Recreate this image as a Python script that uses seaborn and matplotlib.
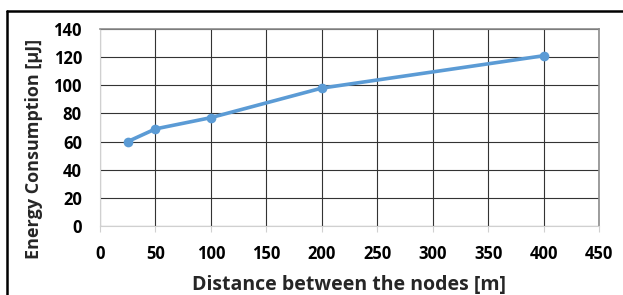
import matplotlib
matplotlib.use("Agg")
import matplotlib.pyplot as plt
import seaborn as sns
import pandas as pd
from matplotlib.lines import Line2D

# data
distance = [25, 50, 100, 200, 400]
energy = [60, 69, 77, 98, 121]
x_ticks = [0, 50, 100, 150, 200, 250, 300, 350, 400, 450]
y_ticks = [0, 20, 40, 60, 80, 100, 120, 140]

df = pd.DataFrame({"distance": distance, "energy": energy})

sns.set_style("white")
plt.rcParams['font.family'] = ['Open Sans', 'DejaVu Sans']

fig = plt.figure(figsize=(6.23, 2.95), dpi=100)
ax = fig.add_axes([100 / 623, 1 - 226 / 295, 499 / 623, 197 / 295])

sns.lineplot(data=df, x="distance", y="energy", ax=ax, color="#5b9bd5",
             linewidth=2.6, marker="o", markersize=7, markeredgewidth=0,
             zorder=3)

ax.set_xlim(0, 450)
ax.set_ylim(0, 140)
ax.set_xticks(x_ticks)
ax.set_yticks(y_ticks)
ax.grid(True, color="#333333", linewidth=0.8)
ax.set_axisbelow(True)

for side in ["top", "right"]:
    ax.spines[side].set_color("#8c8c8c")
    ax.spines[side].set_linewidth(1.2)
ax.spines["left"].set_color("#d0d0d0")
ax.spines["bottom"].set_color("#d0d0d0")
ax.tick_params(axis="x", length=4, color="#d0d0d0", pad=10, bottom=True)
ax.tick_params(axis="y", length=0, pad=13)
for lab in ax.get_xticklabels() + ax.get_yticklabels():
    lab.set_fontweight("bold")
    lab.set_fontsize(12)
    lab.set_color("black")

ax.set_xlabel("Distance between the nodes [m]", fontsize=14,
              fontweight="bold", labelpad=8)
ax.set_ylabel("Energy Consumption [\u03bcJ]", fontsize=13,
              fontweight="bold")
# excel puts the title a bit lower than the axis centre
ax.yaxis.set_label_coords(-57 / 499, 0.39)

# cropped frame around the screenshot (top and left only)
fig.add_artist(Line2D([7 / 623, 7 / 623], [0, 1 - 11 / 295],
                      color="black", linewidth=1.8, transform=fig.transFigure))
fig.add_artist(Line2D([7 / 623, 1], [1 - 11 / 295, 1 - 11 / 295],
                      color="black", linewidth=1.8, transform=fig.transFigure))

fig.savefig("out.png", dpi=100)
